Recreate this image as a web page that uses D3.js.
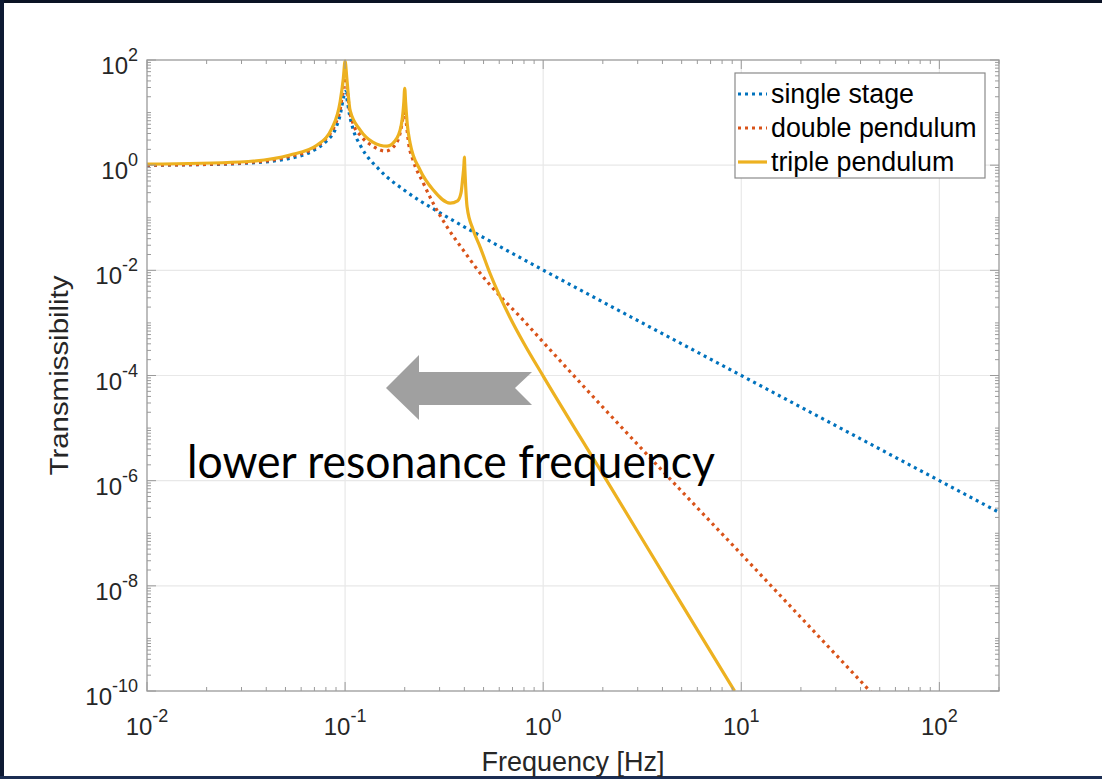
<!DOCTYPE html>
<html>
<head>
<meta charset="utf-8">
<script src="https://cdn.jsdelivr.net/npm/d3@7"></script>
<style>
  html, body { margin: 0; padding: 0; background: #ffffff; overflow: hidden; }
  svg { display: block; }
</style>
</head>
<body>
<script>
// values (frequency in Hz, transmissibility)
const singleFreq = [0.01, 0.02, 0.03, 0.05, 0.07, 0.08, 0.09, 0.095, 0.098, 0.1, 0.102, 0.105, 0.11, 0.12, 0.15, 0.2, 0.3, 0.5, 1, 2, 5, 10, 20, 50, 100, 200];
const singleT = [1.0, 1.03, 1.08, 1.3, 1.95, 2.8, 5.2, 10, 19, 25, 19, 9.6, 4.7, 2.3, 0.8, 0.33, 0.125, 0.042, 0.0101, 0.0025, 4e-4, 1e-4, 2.5e-5, 4e-6, 1e-6, 2.5e-7];

const doubleFreq = [0.01, 0.02, 0.03, 0.05, 0.07, 0.08, 0.09, 0.095, 0.098, 0.1, 0.102, 0.105, 0.11, 0.12, 0.138, 0.16, 0.18, 0.19, 0.196, 0.2, 0.204, 0.21, 0.22, 0.248, 0.278, 0.327, 0.394, 0.48, 0.586, 0.766, 1, 2, 5, 10, 20, 50];
const doubleT = [1.0, 1.04, 1.1, 1.4, 2.15, 3.2, 6.5, 13, 32, 55, 32, 12, 6, 3.6, 2.3, 1.85, 2.5, 4.2, 8, 12, 6, 2.4, 1.26, 0.46, 0.19, 0.067, 0.0245, 0.0089, 0.0037, 0.0013, 4.3e-4, 2.5e-5, 6.3e-7, 4e-8, 2.5e-9, 6.3e-11];

const tripleFreq = [0.01, 0.0295, 0.0527, 0.072, 0.086, 0.0944, 0.098, 0.1, 0.102, 0.106, 0.119, 0.138, 0.163, 0.183, 0.194, 0.198, 0.2, 0.202, 0.206, 0.213, 0.239, 0.278, 0.339, 0.37, 0.385, 0.393, 0.398, 0.4, 0.402, 0.406, 0.413, 0.443, 0.48, 0.54, 0.607, 0.68, 0.8, 1, 2, 5, 9.25];
const tripleT = [1.05, 1.15, 1.56, 2.4, 5.1, 16, 45, 95, 45, 11, 4.7, 2.75, 2.3, 3.3, 7.2, 16, 29, 16, 6, 2.6, 0.81, 0.34, 0.19, 0.21, 0.3, 0.6, 1.0, 1.43, 0.9, 0.4, 0.16, 0.059, 0.028, 0.0086, 0.0031, 0.00127, 4.06e-4, 9.75e-5, 1.33e-6, 4.5e-9, 1e-10];

const seriesNames = ["single stage", "double pendulum", "triple pendulum"];
const seriesColors = ["#0072bd", "#d95319", "#edb120"];

const xTickExps = [-2, -1, 0, 1, 2];
const yTickExps = [2, 0, -2, -4, -6, -8, -10];

const W = 1102, H = 779;
const margin = { left: 147, top: 60, right: 999, bottom: 691 };

const svg = d3.select("body")
    .append("svg")
    .attr("width", W)
    .attr("height", H);

// slide background + dark frame strips
svg.append("rect").attr("width", W).attr("height", H).attr("fill", "#ffffff");
svg.append("rect").attr("x", 0).attr("y", 0).attr("width", W).attr("height", 3).attr("fill", "#0b1324");
svg.append("rect").attr("x", 0).attr("y", 0).attr("width", 4).attr("height", H).attr("fill", "#0e1a33");
svg.append("rect").attr("x", 0).attr("y", 776).attr("width", W).attr("height", 3).attr("fill", "#1b2d52");

const x = d3.scaleLog().domain([0.01, 200]).range([margin.left, margin.right]);
const y = d3.scaleLog().domain([1e-10, 100]).range([margin.bottom, margin.top]);

const font = "'Liberation Sans', Arial, Helvetica, sans-serif";

// grid
svg.append("g").selectAll("line")
    .data(xTickExps.filter(e => e > -2))
    .join("line")
    .attr("x1", d => x(Math.pow(10, d)))
    .attr("x2", d => x(Math.pow(10, d)))
    .attr("y1", margin.top)
    .attr("y2", margin.bottom)
    .attr("stroke", "#e8e8e8")
    .attr("stroke-width", 1.2);

svg.append("g").selectAll("line")
    .data(yTickExps.filter(e => e > -10 && e < 2))
    .join("line")
    .attr("x1", margin.left)
    .attr("x2", margin.right)
    .attr("y1", d => y(Math.pow(10, d)))
    .attr("y2", d => y(Math.pow(10, d)))
    .attr("stroke", "#e8e8e8")
    .attr("stroke-width", 1.2);

// curves
svg.append("defs").append("clipPath").attr("id", "plotclip")
    .append("rect")
    .attr("x", margin.left)
    .attr("y", margin.top - 2)
    .attr("width", margin.right - margin.left)
    .attr("height", margin.bottom - margin.top + 2);

const line = d3.line()
    .x(d => x(d[0]))
    .y(d => y(d[1]))
    .curve(d3.curveMonotoneX);

const series = [
    { f: singleFreq, t: singleT, dash: "3 4" },
    { f: doubleFreq, t: doubleT, dash: "3 4" },
    { f: tripleFreq, t: tripleT, dash: null }
];

const plot = svg.append("g").attr("clip-path", "url(#plotclip)");
series.forEach((s, i) => {
    plot.append("path")
        .attr("d", line(d3.zip(s.f, s.t)))
        .attr("fill", "none")
        .attr("stroke", seriesColors[i])
        .attr("stroke-width", 3.2)
        .attr("stroke-dasharray", s.dash)
        .attr("stroke-linejoin", "round");
});

// ticks
const xTicks = [];
for (let e = -2; e <= 2; e++) {
    for (let m = 1; m <= 9; m++) {
        const v = m * Math.pow(10, e);
        if (v <= 200) xTicks.push({ v: v, major: m === 1 });
    }
}
const yTicks = [];
for (let e = -10; e <= 2; e++) {
    for (let m = 1; m <= 9; m++) {
        const v = m * Math.pow(10, e);
        if (v <= 100) yTicks.push({ v: v, major: m === 1 && e % 2 === 0 });
    }
}

const axisColor = "#9a9a9a";
const tickG = svg.append("g").attr("stroke", axisColor).attr("stroke-width", 1);
xTicks.forEach(t => {
    const len = t.major ? 9 : 4;
    tickG.append("line").attr("x1", x(t.v)).attr("x2", x(t.v))
        .attr("y1", margin.bottom).attr("y2", margin.bottom - len);
    tickG.append("line").attr("x1", x(t.v)).attr("x2", x(t.v))
        .attr("y1", margin.top).attr("y2", margin.top + len);
});
yTicks.forEach(t => {
    const len = t.major ? 9 : 4;
    tickG.append("line").attr("y1", y(t.v)).attr("y2", y(t.v))
        .attr("x1", margin.left).attr("x2", margin.left + len);
    tickG.append("line").attr("y1", y(t.v)).attr("y2", y(t.v))
        .attr("x1", margin.right).attr("x2", margin.right - len);
});

// axes box
svg.append("rect")
    .attr("x", margin.left)
    .attr("y", margin.top)
    .attr("width", margin.right - margin.left)
    .attr("height", margin.bottom - margin.top)
    .attr("fill", "none")
    .attr("stroke", axisColor)
    .attr("stroke-width", 1.3);

// tick labels
const xLab = svg.append("g").selectAll("text")
    .data(xTickExps)
    .join("text")
    .attr("x", d => x(Math.pow(10, d)))
    .attr("y", 735)
    .attr("text-anchor", "middle")
    .attr("font-family", font)
    .attr("font-size", 24)
    .attr("fill", "#262626");
xLab.append("tspan").text("10");
xLab.append("tspan").attr("dy", -13).attr("font-size", 18).text(d => d);

const yLab = svg.append("g").selectAll("text")
    .data(yTickExps)
    .join("text")
    .attr("x", margin.left - 9)
    .attr("y", d => y(Math.pow(10, d)) + 14)
    .attr("text-anchor", "end")
    .attr("font-family", font)
    .attr("font-size", 24)
    .attr("fill", "#262626");
yLab.append("tspan").text("10");
yLab.append("tspan").attr("dy", -13).attr("font-size", 18).text(d => d);

// axis titles
svg.append("text")
    .attr("x", (margin.left + margin.right) / 2)
    .attr("y", 771)
    .attr("text-anchor", "middle")
    .attr("font-family", font)
    .attr("font-size", 27)
    .attr("fill", "#262626")
    .text("Frequency [Hz]");

svg.append("text")
    .attr("transform", `translate(68, ${(margin.top + margin.bottom) / 2}) rotate(-90)`)
    .attr("text-anchor", "middle")
    .attr("font-family", font)
    .attr("font-size", 25)
    .attr("textLength", 200)
    .attr("lengthAdjust", "spacingAndGlyphs")
    .attr("fill", "#262626")
    .text("Transmissibility");

// legend
const leg = svg.append("g");
leg.append("rect")
    .attr("x", 735).attr("y", 73)
    .attr("width", 250).attr("height", 105)
    .attr("fill", "#ffffff")
    .attr("stroke", "#8a8a8a")
    .attr("stroke-width", 1.2);
seriesNames.forEach((name, i) => {
    const cy = 94 + i * 34;
    leg.append("line")
        .attr("x1", 738).attr("x2", 767)
        .attr("y1", cy).attr("y2", cy)
        .attr("stroke", seriesColors[i])
        .attr("stroke-width", 3.2)
        .attr("stroke-dasharray", series[i].dash);
    leg.append("text")
        .attr("x", 771).attr("y", cy + 9)
        .attr("font-family", font)
        .attr("font-size", 26.8)
        .attr("fill", "#000000")
        .text(name);
});

// annotation arrow (pointing left) and caption
const arrowPts = [[386, 388], [419, 355], [419, 372], [532, 372], [515, 388], [532, 405], [419, 405], [419, 420]];
svg.append("polygon")
    .attr("points", arrowPts.map(p => p.join(",")).join(" "))
    .attr("fill", "#a0a0a0");

svg.append("text")
    .attr("x", 187)
    .attr("y", 478)
    .attr("font-family", "Lato, 'Open Sans', sans-serif")
    .attr("font-size", 46)
    .attr("textLength", 528)
    .attr("lengthAdjust", "spacingAndGlyphs")
    .attr("fill", "#000000")
    .text("lower resonance frequency");
</script>
</body>
</html>
